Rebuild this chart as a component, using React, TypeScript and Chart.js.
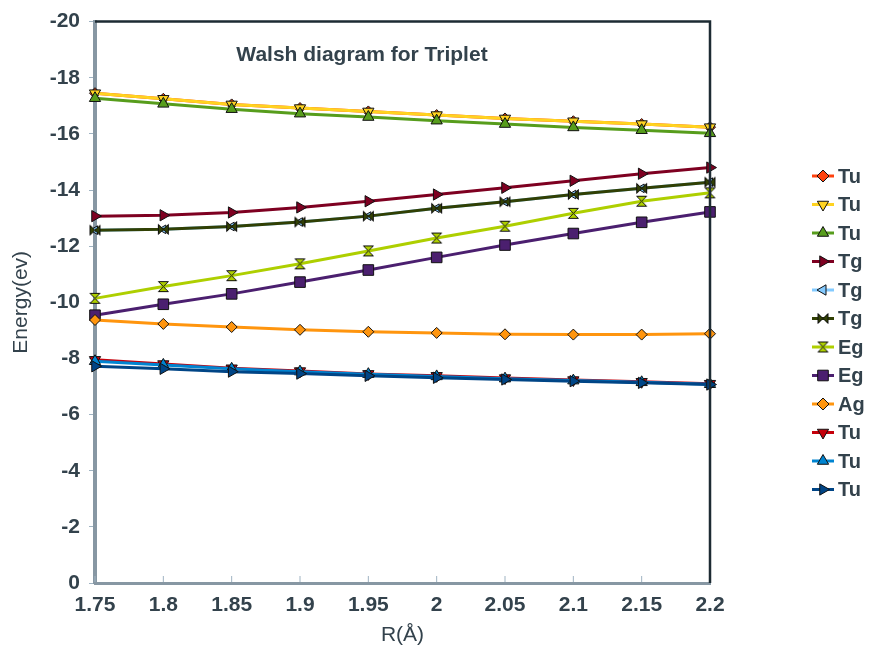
import React, { useEffect, useRef } from 'react';
import { Chart, registerables } from 'chart.js';
import { drawPoint } from 'chart.js/helpers';

Chart.register(...registerables);

const R_LABELS = ['1.75', '1.8', '1.85', '1.9', '1.95', '2', '2.05', '2.1', '2.15', '2.2'];

const TU_A1 = [-17.45, -17.25, -17.05, -16.92, -16.8, -16.67, -16.55, -16.45, -16.35, -16.24];
const TU_A2 = [-17.45, -17.25, -17.05, -16.92, -16.8, -16.67, -16.55, -16.45, -16.35, -16.24];
const TU_A3 = [-17.27, -17.07, -16.88, -16.72, -16.6, -16.47, -16.35, -16.23, -16.13, -16.02];
const TG_1 = [-13.07, -13.1, -13.2, -13.38, -13.6, -13.84, -14.08, -14.33, -14.58, -14.8];
const TG_2 = [-12.57, -12.6, -12.7, -12.86, -13.07, -13.35, -13.58, -13.84, -14.06, -14.28];
const TG_3 = [-12.57, -12.6, -12.7, -12.86, -13.07, -13.35, -13.58, -13.84, -14.06, -14.28];
const EG_1 = [-10.14, -10.56, -10.95, -11.37, -11.83, -12.29, -12.71, -13.17, -13.6, -13.9];
const EG_2 = [-9.54, -9.93, -10.3, -10.72, -11.15, -11.6, -12.04, -12.45, -12.85, -13.22];
const AG = [-9.37, -9.23, -9.12, -9.02, -8.95, -8.91, -8.86, -8.85, -8.85, -8.88];
const TU_B1 = [-7.95, -7.8, -7.65, -7.55, -7.45, -7.38, -7.3, -7.23, -7.17, -7.1];
const TU_B2 = [-7.9, -7.77, -7.63, -7.53, -7.44, -7.36, -7.28, -7.21, -7.15, -7.08];
const TU_B3 = [-7.72, -7.63, -7.53, -7.46, -7.38, -7.31, -7.25, -7.19, -7.13, -7.07];

const SERIES_DATA = [TU_A1, TU_A2, TU_A3, TG_1, TG_2, TG_3, EG_1, EG_2, AG, TU_B1, TU_B2, TU_B3];
const SERIES_NAMES = ['Tu', 'Tu', 'Tu', 'Tg', 'Tg', 'Tg', 'Eg', 'Eg', 'Ag', 'Tu', 'Tu', 'Tu'];
const COLORS = ['#ff420e', '#ffd320', '#579d1c', '#7e0021', '#83caff', '#314004', '#aecf00', '#4b1f6f', '#ff950e', '#c5000b', '#0084d1', '#004586'];

const TITLE = 'Walsh diagram for Triplet';
const Y_TITLE = 'Energy(ev)';
const X_TITLE = 'R(Å)';

const TEXT_COLOR = '#33424c';
const FONT = '"Liberation Sans", Arial, sans-serif';

function makeShape(kind: string, color: string): HTMLCanvasElement {
  const c = document.createElement('canvas');
  c.width = 13;
  c.height = 13;
  const g = c.getContext('2d')!;
  g.beginPath();
  if (kind === 'hourglass') {
    g.moveTo(1.5, 1.5); g.lineTo(11.5, 1.5); g.lineTo(6.5, 6.5); g.lineTo(11.5, 11.5); g.lineTo(1.5, 11.5); g.lineTo(6.5, 6.5);
  } else {
    g.moveTo(1.5, 1.5); g.lineTo(6.5, 6.5); g.lineTo(1.5, 11.5); g.closePath();
    g.moveTo(11.5, 1.5); g.lineTo(6.5, 6.5); g.lineTo(11.5, 11.5);
  }
  g.closePath();
  g.fillStyle = color;
  g.fill();
  g.strokeStyle = '#111';
  g.lineWidth = 1;
  g.stroke();
  return c;
}

export default function App() {
  const ref = useRef<HTMLCanvasElement>(null);
  useEffect(() => {
    if (!ref.current) return;
    const styles: any[] = [
      { s: 'rectRot', r: 0, rad: 5.5 },
      { s: 'triangle', r: 180, rad: 6.5 },
      { s: 'triangle', r: 0, rad: 6.5 },
      { s: 'triangle', r: 90, rad: 6.5 },
      { s: 'triangle', r: -90, rad: 5 },
      { s: makeShape('bowtie', COLORS[5]), r: 0, rad: 6 },
      { s: makeShape('hourglass', COLORS[6]), r: 0, rad: 6 },
      { s: 'rect', r: 0, rad: 7.5 },
      { s: 'rectRot', r: 0, rad: 5.5 },
      { s: 'triangle', r: 180, rad: 6.5 },
      { s: 'triangle', r: 0, rad: 6.5 },
      { s: 'triangle', r: 90, rad: 6.5 },
    ];
    const datasets = SERIES_DATA.map((d, i) => ({
      label: SERIES_NAMES[i],
      data: d,
      borderColor: COLORS[i],
      backgroundColor: COLORS[i],
      borderWidth: 3,
      pointStyle: styles[i].s,
      pointRotation: styles[i].r,
      pointRadius: styles[i].rad,
      pointBackgroundColor: COLORS[i],
      pointBorderColor: '#111',
      pointBorderWidth: 1,
      tension: 0,
      fill: false,
      clip: false as any,
      order: 20 - i,
    }));

    const deco = {
      id: 'deco',
      afterDraw(chart: any) {
        const { ctx, chartArea: a, scales } = chart;
        ctx.save();
        // inner x ticks
        ctx.strokeStyle = '#9fb3c2';
        ctx.lineWidth = 1;
        R_LABELS.forEach((_, i) => {
          const x = scales.x.getPixelForValue(i);
          ctx.beginPath();
          ctx.moveTo(x, a.bottom - 1);
          ctx.lineTo(x, a.bottom - 7);
          ctx.stroke();
        });
        // top and right border
        ctx.strokeStyle = '#1d2b33';
        ctx.lineWidth = 2.5;
        ctx.beginPath();
        ctx.moveTo(a.left, a.top);
        ctx.lineTo(a.right, a.top);
        ctx.lineTo(a.right, a.bottom);
        ctx.stroke();
        // title
        ctx.fillStyle = TEXT_COLOR;
        ctx.font = `bold 21px ${FONT}`;
        ctx.textAlign = 'center';
        ctx.textBaseline = 'middle';
        ctx.fillText(TITLE, a.left + 267, a.top + 34);
        // legend
        const lx = 823;
        const ly0 = 176;
        const step = 28.5;
        chart.data.datasets.forEach((ds: any, i: number) => {
          const y = ly0 + i * step;
          ctx.strokeStyle = ds.borderColor;
          ctx.lineWidth = 3;
          ctx.beginPath();
          ctx.moveTo(lx - 11, y);
          ctx.lineTo(lx + 11, y);
          ctx.stroke();
          ctx.fillStyle = ds.pointBackgroundColor;
          ctx.strokeStyle = '#111';
          ctx.lineWidth = 1;
          drawPoint(ctx, { pointStyle: ds.pointStyle, rotation: ds.pointRotation, radius: Math.max(ds.pointRadius, 6), borderWidth: 1 } as any, lx, y);
          ctx.fillStyle = TEXT_COLOR;
          ctx.font = `bold 20px ${FONT}`;
          ctx.textAlign = 'left';
          ctx.textBaseline = 'middle';
          ctx.fillText(SERIES_NAMES[i], 838, y + 1);
        });
        ctx.restore();
      },
    };

    const chart = new Chart(ref.current, {
      type: 'line',
      data: { labels: R_LABELS, datasets },
      plugins: [deco],
      options: {
        animation: false,
        responsive: true,
        maintainAspectRatio: false,
        layout: { padding: { top: 15, right: 165, bottom: 0, left: 0 } },
        plugins: { legend: { display: false }, tooltip: { enabled: false }, title: { display: false } },
        scales: {
          x: {
            type: 'category',
            offset: false,
            afterFit: (s: any) => { s.height = 76; },
            grid: { display: true, drawOnChartArea: false, drawTicks: false, color: '#9fb3c2' },
            border: { display: true, color: '#8797a3', width: 3 },
            ticks: { color: TEXT_COLOR, font: { family: FONT, size: 21, weight: 'bold' }, padding: 10, maxRotation: 0, autoSkip: false },
            title: { display: true, text: X_TITLE, color: TEXT_COLOR, font: { family: FONT, size: 21 }, padding: { top: 0, bottom: 11 } },
          },
          y: {
            type: 'linear',
            reverse: true,
            min: -20,
            max: 0,
            afterFit: (s: any) => { s.width = 95; },
            grid: { display: true, drawOnChartArea: false, drawTicks: true, tickLength: 6, color: '#9fb3c2' },
            border: { display: true, color: '#8797a3', width: 4 },
            ticks: { stepSize: 2, color: TEXT_COLOR, font: { family: FONT, size: 21, weight: 'bold' }, padding: 9 },
            title: { display: true, text: Y_TITLE, color: TEXT_COLOR, font: { family: FONT, size: 21 }, padding: { top: 9, bottom: 0 } },
          },
        },
      } as any,
    });
    return () => chart.destroy();
  }, []);

  return (
    <div style={{ position: 'absolute', left: 0, top: 0, width: 875, height: 659, background: '#fff' }}>
      <canvas ref={ref} />
    </div>
  );
}
